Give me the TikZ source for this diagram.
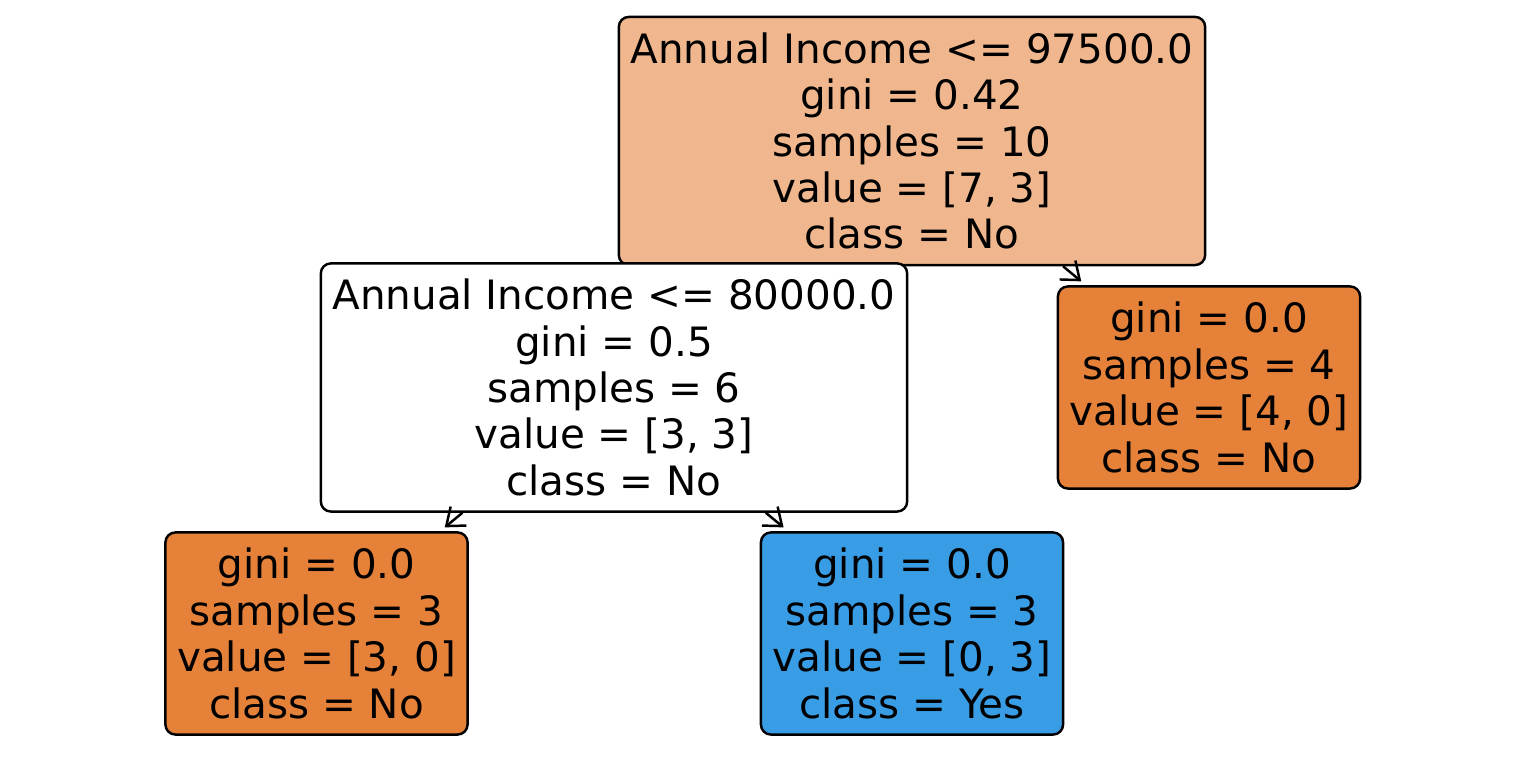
\documentclass[tikz,border=0pt]{standalone}
\usepackage{fontspec}
\setmainfont{DejaVu Sans}
\usepackage{xcolor}
\usetikzlibrary{arrows.meta}

\definecolor{rootfill}{HTML}{F0B78E}
\definecolor{nofill}{HTML}{E58139}
\definecolor{yesfill}{HTML}{399DE5}

\tikzset{
  treenode/.style={draw=black, line width=0.7pt, rounded corners=0.1cm, align=center,
    inner sep=0pt, font=\fontsize{11.5}{13.2}\selectfont},
  splitnode/.style={treenode, minimum width=5.86cm, minimum height=2.48cm},
  leafnode/.style={treenode, minimum width=3.02cm, minimum height=2.02cm},
  edge/.style={line width=0.7pt, -{Straight Barb[length=4.5pt,width=7pt]}, shorten >=0.06cm}
}

\begin{document}
\begin{tikzpicture}[x=0.01cm,y=-0.01cm]
\useasboundingbox (0,0) rectangle (1526,777);
\node[splitnode, fill=rootfill] (root) at (912,141) {Annual Income <= 97500.0\\gini = 0.42\\samples = 10\\value = [7, 3]\\class = No};
\node[splitnode, fill=white] (income) at (614,387.5) {Annual Income <= 80000.0\\gini = 0.5\\samples = 6\\value = [3, 3]\\class = No};
\node[leafnode, fill=nofill] (rleaf) at (1209,387.5) {gini = 0.0\\samples = 4\\value = [4, 0]\\class = No};
\node[leafnode, fill=nofill] (llleaf) at (316.5,633.5) {gini = 0.0\\samples = 3\\value = [3, 0]\\class = No};
\node[leafnode, fill=yesfill] (lrleaf) at (912,633.5) {gini = 0.0\\samples = 3\\value = [0, 3]\\class = Yes};
\draw[edge] (root) -- (rleaf);
\draw[edge] (income) -- (llleaf);
\draw[edge] (income) -- (lrleaf);
\end{tikzpicture}
\end{document}
